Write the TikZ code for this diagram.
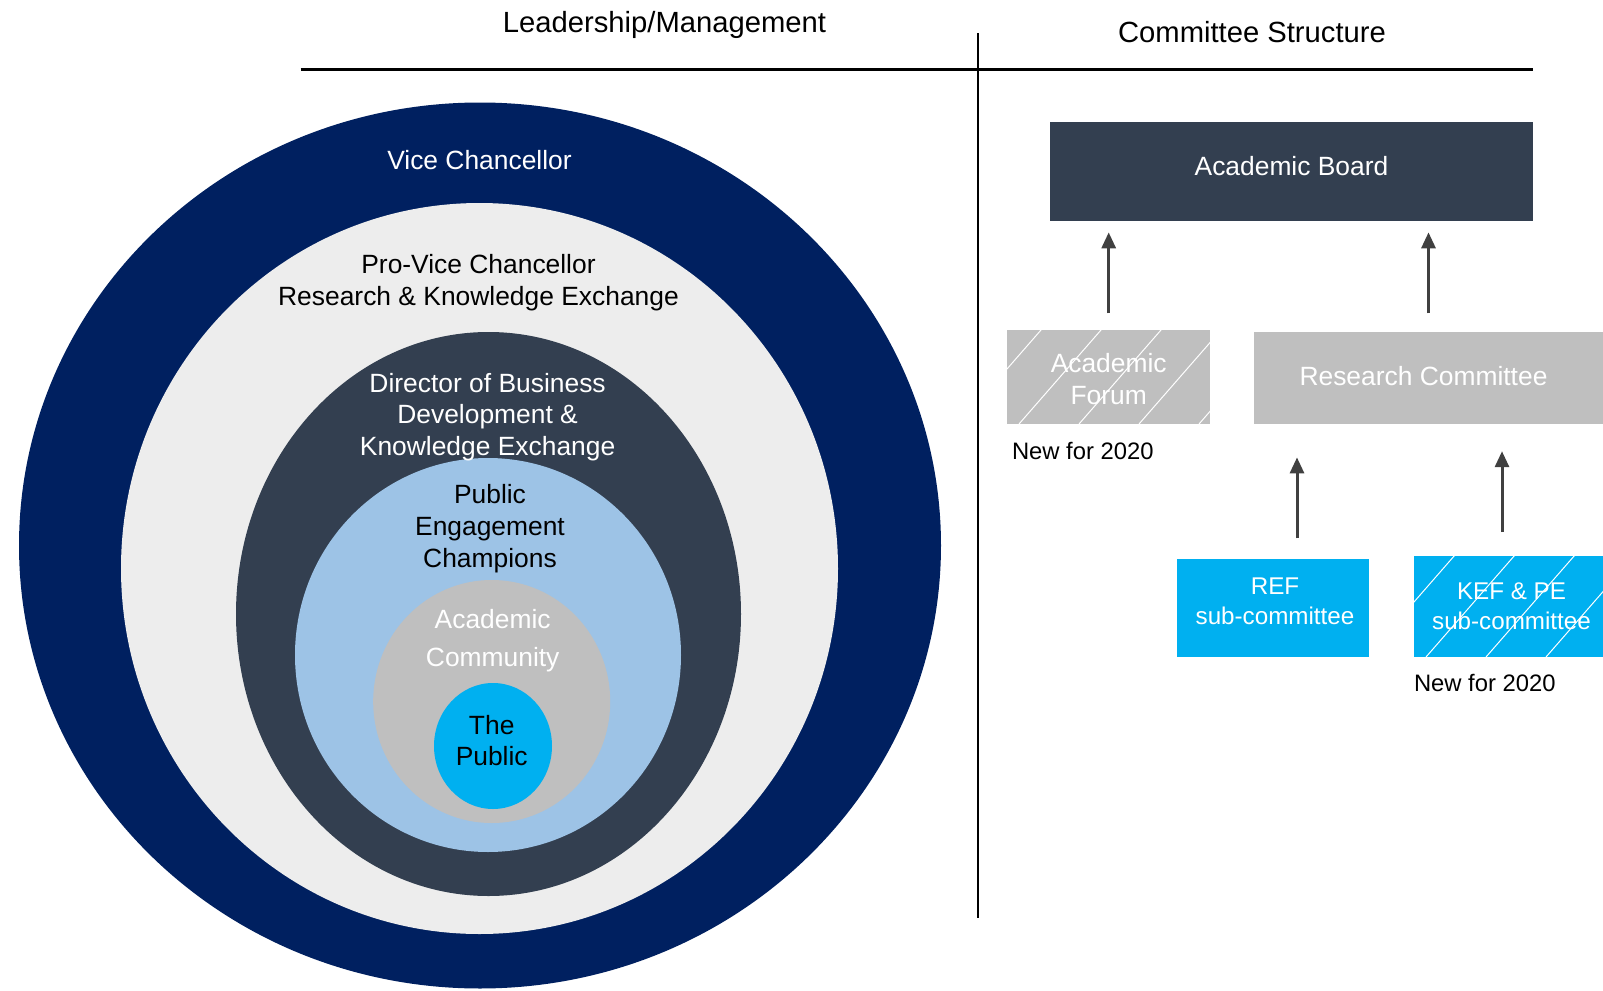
\documentclass[tikz,border=0pt]{standalone}
\usepackage{fontspec}
\setmainfont{Liberation Sans}
\usetikzlibrary{arrows.meta,positioning}

\definecolor{vcblue}{HTML}{002060}
\definecolor{pvcgrey}{HTML}{EDEDED}
\definecolor{slate}{HTML}{333F50}
\definecolor{pecblue}{HTML}{9DC3E6}
\definecolor{acgrey}{HTML}{BFBFBF}
\definecolor{pubcyan}{HTML}{00B0F0}
\definecolor{arrowgrey}{HTML}{404040}

\begin{document}
\begin{tikzpicture}[x=0.5pt, y=-0.5pt]

        \tikzstyle{header} = [font=\fontsize{14.6}{17.5}\selectfont]
        \tikzstyle{ringtext} = [align=center, inner sep=0pt, font=\fontsize{13.2}{15.85}\selectfont]
        \tikzstyle{block} = [rectangle, inner sep=0pt]
        \tikzstyle{boxtext} = [text=white, align=center, inner sep=0pt, font=\fontsize{13.2}{15.85}\selectfont]
        \tikzstyle{subtext} = [boxtext, font=\fontsize{12.1}{14.8}\selectfont]
        \tikzstyle{newhatch} = [path picture={
            \foreach \k in {-3,...,4}
                \draw[white, line width=0.5pt] ([xshift=\k*30pt+6pt]path picture bounding box.south west) -- ++(82pt,94pt);}]
        \tikzstyle{note} = [anchor=west, inner sep=0pt, font=\fontsize{11.9}{14}\selectfont]
        \tikzstyle{uparrow} = [-{Triangle[width=7pt,length=8pt]}, line width=1.5pt, draw=arrowgrey]

        \useasboundingbox (0,0) rectangle (1603,991);

        % rings
        \fill[vcblue] (480,545.5) ellipse [x radius=230.5pt, y radius=221.5pt];
        \fill[pvcgrey] (479.5,568.5) ellipse [x radius=179.25pt, y radius=182.75pt];
        \fill[slate] (488.5,614) ellipse [x radius=126.25pt, y radius=141pt];
        \fill[pecblue] (488,655) ellipse [x radius=96.5pt, y radius=98.5pt];
        \fill[acgrey] (491.7,701.5) ellipse [x radius=59.25pt, y radius=60.75pt];
        \fill[pubcyan] (493,746) ellipse [x radius=29.5pt, y radius=31.5pt];

        \node [ringtext, text=white] (vc) at (479.5,160.5) {Vice Chancellor};
        \node [ringtext] (pvc) at (478.5,282.6) {Pro-Vice Chancellor\\Research \& Knowledge Exchange};
        \node [ringtext, text=white] (dir) at (487.6,417) {Director of Business\\Development \&\\Knowledge Exchange};
        \node [ringtext] (pec) at (490,528.5) {Public\\Engagement\\Champions};
        \node [ringtext, text=white, font=\fontsize{13.2}{18.9}\selectfont] (acad) at (492.7,640.4) {Academic\\Community};
        \node [ringtext] (pub) at (491.7,740.6) {The\\Public};

        % headings
        \draw[line width=1.25pt] (300.5,69.5) -- (1533,69.5);
        \draw[line width=1pt] (978,33) -- (978,918);
        \node [header] (lead) at (664.5,24.5) {Leadership/Management};
        \node [header] (comm) at (1252,32) {Committee Structure};

        % committees
        \node [block, fill=slate, minimum width=241.5pt, minimum height=49.5pt,
               label={[boxtext, yshift=2.5pt]center:Academic Board}] (board) at (1291.5,171.25) {};
        \node [block, fill=acgrey, newhatch, minimum width=101.7pt, minimum height=47pt,
               label={[boxtext, yshift=-1pt]center:{Academic\\Forum}}] (forum) at (1108.7,377) {};
        \node [block, fill=acgrey, minimum width=174.5pt, minimum height=46pt,
               label={[boxtext, xshift=-2.5pt, yshift=1pt]center:Research Committee}] (research) at (1428.5,378) {};
        \node [block, fill=pubcyan, minimum width=96pt, minimum height=49pt,
               label={[subtext, xshift=1pt, yshift=3.3pt]center:{REF\\sub-committee}}] (ref) at (1273,608) {};
        \node [block, fill=pubcyan, newhatch, minimum width=94.5pt, minimum height=50.5pt,
               label={[subtext, xshift=1.5pt]center:{KEF \& PE\\sub-committee}}] (kef) at (1508.5,606.5) {};

        \node [note] (newforum) at ([xshift=2.5pt, yshift=-13.5pt]forum.south west) {New for 2020};
        \node [note] (newkef) at ([yshift=-13pt]kef.south west) {New for 2020};

        \coordinate (reftop) at ([xshift=12pt]ref.north);
        \coordinate (keftop) at ([xshift=-3.25pt]kef.north);

        \draw [uparrow, shorten <=8.1pt, shorten >=5.6pt] (forum.north) -- (forum.north |- board.south);
        \draw [uparrow, shorten <=9.1pt, shorten >=5.6pt] (research.north) -- (research.north |- board.south);
        \draw [uparrow, shorten <=10.1pt, shorten >=16.5pt] (reftop) -- (reftop |- research.south);
        \draw [uparrow, shorten <=11.7pt, shorten >=13.4pt] (keftop) -- (keftop |- research.south);

\end{tikzpicture}
\end{document}
